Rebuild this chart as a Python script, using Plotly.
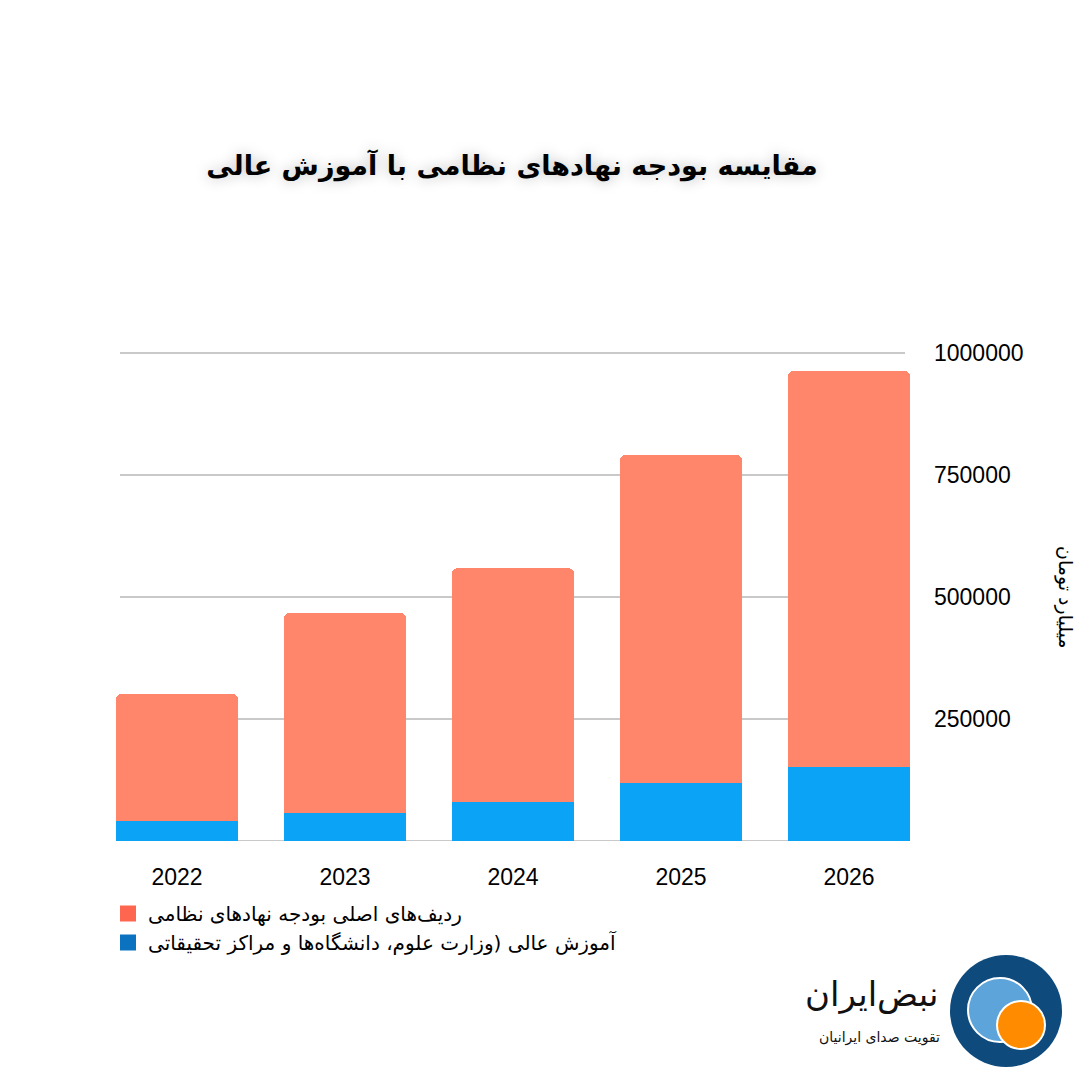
import plotly.graph_objects as go

# ---- data ----
years = ["2022", "2023", "2024", "2025", "2026"]
military = [259000, 410000, 480000, 673000, 811000]
higher_ed = [42000, 57000, 79000, 118000, 152000]
name_military = "ردیف‌های اصلی بودجه نهادهای نظامی"
name_higher_ed = "آموزش عالی (وزارت علوم، دانشگاه‌ها و مراکز تحقیقاتی"
y_ticks = [250000, 500000, 750000, 1000000]
grid_values = [0, 250000, 500000, 750000, 1000000]
title_text = "مقایسه بودجه نهادهای نظامی با آموزش عالی"
y_title = "میلیارد تومان"

W, H = 1080, 1080
L, R, T, B = 93, 933, 348, 841  # plot area pixels
Y_MAX = 1010000
GRID_X0, GRID_X1 = 120, 905

def px_x(x):
    return (x - L) / (R - L)

def px_y(y):
    return (B - y) / (B - T)

FONT = "DejaVu Sans, Noto Sans, sans-serif"
NUM_FONT = "Liberation Sans, Arial, sans-serif"

fig = go.Figure()
fig.add_trace(go.Bar(x=years, y=higher_ed, name=name_higher_ed,
                     marker=dict(color="#0BA3F5", line=dict(width=0)), showlegend=False))
fig.add_trace(go.Bar(x=years, y=military, name=name_military,
                     marker=dict(color="#FF856B", line=dict(width=0), cornerradius=6), showlegend=False))
# legend entries with larger square symbols
fig.add_trace(go.Scatter(x=[None], y=[None], mode="markers", name=name_higher_ed,
                         marker=dict(symbol="square", size=22, color="#0A72BE")))
fig.add_trace(go.Scatter(x=[None], y=[None], mode="markers", name=name_military,
                         marker=dict(symbol="square", size=22, color="#FF6650")))

fig.update_layout(
    width=W, height=H,
    margin=dict(l=L, r=W - R, t=T, b=H - B, autoexpand=False),
    paper_bgcolor="white", plot_bgcolor="white",
    barmode="stack", bargap=0.27,
    font=dict(family=FONT, color="black"),
    title=dict(text="<b>" + title_text + "</b>", x=px_x(512), xref="paper",
               y=1 - 166 / H, yref="container", xanchor="center", yanchor="middle",
               font=dict(size=27, color="black", family=FONT,
                         shadow="0px 0px 14px rgba(0,0,0,0.28)")),
    legend=dict(x=px_x(108), y=px_y(894), xanchor="left", yanchor="top",
                traceorder="reversed", font=dict(size=20, color="black"),
                itemsizing="trace", tracegroupgap=0, bgcolor="rgba(0,0,0,0)"),
    xaxis=dict(type="category", range=[-0.5, 4.5], showgrid=False, showline=False,
               ticks="", tickfont=dict(size=23, color="black", family=NUM_FONT),
               ticklabelstandoff=20),
    yaxis=dict(side="right", range=[0, Y_MAX], tickvals=y_ticks, tickformat="d",
               showgrid=False, zeroline=False,
               ticks="", showline=False, ticklabelstandoff=0,
               tickfont=dict(size=23, color="black", family=NUM_FONT)),
)

shapes = []
for v in grid_values:
    shapes.append(dict(type="line", xref="paper", yref="y",
                       x0=px_x(GRID_X0), x1=px_x(GRID_X1), y0=v, y1=v,
                       line=dict(color="#C9C9C9", width=2), layer="below"))

anns = []
anns.append(dict(text=y_title, x=px_x(1066), y=px_y(597), xref="paper", yref="paper",
                 xanchor="center", yanchor="middle",
                 showarrow=False, textangle=90, font=dict(size=19, color="black")))
# logo text
anns.append(dict(text="نبض‌ایران", x=px_x(940), y=px_y(994), xref="paper", yref="paper",
                 xanchor="right", yanchor="middle", showarrow=False,
                 font=dict(size=34, color="#111111")))
anns.append(dict(text="تقویت صدای ایرانیان", x=px_x(942), y=px_y(1037), xref="paper", yref="paper",
                 xanchor="right", yanchor="middle", showarrow=False,
                 font=dict(size=14, color="#111111")))
fig.update_layout(annotations=anns)

def circle(cx, cy, r, fill, line_color=None, lw=0):
    return dict(type="circle", xref="paper", yref="paper",
                x0=px_x(cx - r), x1=px_x(cx + r), y0=px_y(cy + r), y1=px_y(cy - r),
                fillcolor=fill, line=dict(color=line_color or fill, width=lw), layer="above")

shapes += [
    circle(1006, 1011, 56, "#0E4A7C"),
    circle(1000, 1010, 32, "#5CA4DA", "white", 2),
    circle(1021, 1025, 24, "#FF8C00", "white", 2),
]
fig.update_layout(shapes=shapes)

fig.write_html("out.html")
